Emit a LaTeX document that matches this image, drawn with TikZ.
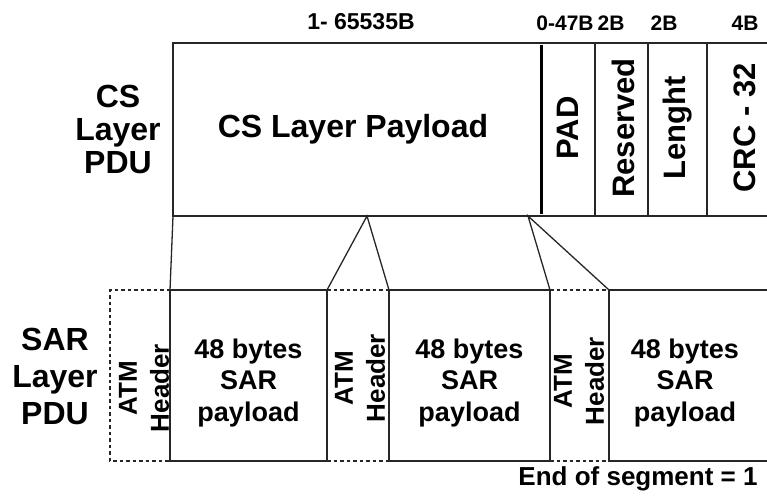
\documentclass[tikz,border=0pt]{standalone}
\usepackage{fontspec}
\setmainfont{Liberation Sans}
\begin{document}
\begin{tikzpicture}[x=1pt,y=-1pt,
  ln/.style={line width=1.3pt, draw=black!85},
  thick sep/.style={line width=3pt, draw=black},
  dsh/.style={line width=1.3pt, draw=black!85, dash pattern=on 3.5pt off 3pt},
  big/.style={font=\bfseries\fontsize{32}{33}\selectfont, align=center, inner sep=0pt},
  vert/.style={font=\bfseries\fontsize{31}{33}\selectfont, rotate=90, inner sep=0pt},
  small/.style={font=\bfseries\fontsize{23}{25}\selectfont, inner sep=0pt},
  pay/.style={font=\bfseries\fontsize{27}{31.5}\selectfont, align=center, inner sep=0pt},
  hdr/.style={font=\bfseries\fontsize{26}{32}\selectfont, align=center, rotate=90, inner sep=0pt}]
\useasboundingbox (0,0) rectangle (767,502);

% ---- CS layer PDU frame
\coordinate (csTR) at (767,43);
\coordinate (csTL) at (173,43);
\coordinate (csBL) at (173,216);
\coordinate (csBR) at (767,216);
\draw[ln] (csTR) -- (csTL) -- (csBL) -- (csBR);
\draw[thick sep] (541,45) -- (541,214);
\draw[ln] (595,43) -- (595,216);
\draw[ln] (648,43) -- (648,216);
\draw[ln] (707,43) -- (707,216);

% labels top
\node[small] (lb1) at (361,22) {1- 65535B};
\node[small, font=\bfseries\fontsize{21}{24}\selectfont] (lb2) at (565,23) {0-47B};
\node[small, font=\bfseries\fontsize{21}{24}\selectfont] (lb3) at (611,23) {2B};
\node[small, font=\bfseries\fontsize{21}{24}\selectfont] (lb4) at (664,23) {2B};
\node[small, font=\bfseries\fontsize{21}{24}\selectfont] (lb5) at (745,23) {4B};

\node[big] (cspdu) at (118,129) {CS\\Layer\\PDU};
\node[big] (cspay) at (353,129) {CS Layer Payload};
\node[vert] (pad) at (568,128) {PAD};
\node[vert] (res) at (623,128) {Reserved};
\node[vert] (len) at (678,128) {Lenght};
\node[vert] (crc) at (745,128) {CRC - 32};

% ---- SAR layer PDU
\coordinate (h1TL) at (110,290);
\coordinate (h1BL) at (110,461);
\coordinate (p1TL) at (170,290);
\coordinate (p1BL) at (170,461);
\coordinate (p1TR) at (327,290);
\coordinate (p1BR) at (327,461);
\coordinate (p2TL) at (389,290);
\coordinate (p2BL) at (389,461);
\coordinate (p2TR) at (550,290);
\coordinate (p2BR) at (550,461);
\coordinate (p3TL) at (609,290);
\coordinate (p3BL) at (609,461);
\coordinate (p3TR) at (767,290);
\coordinate (p3BR) at (767,461);

\draw[dsh] (p1TL) -- (h1TL) -- (h1BL) -- (p1BL);
\draw[ln] (p1TL) rectangle (p1BR);
\draw[dsh] (p1TR) -- (p2TL);
\draw[dsh] (p1BR) -- (p2BL);
\draw[ln] (p2TL) rectangle (p2BR);
\draw[dsh] (p2TR) -- (p3TL);
\draw[dsh] (p2BR) -- (p3BL);
\draw[ln] (p3TR) -- (p3TL) -- (p3BL) -- (p3BR);

% connectors
\coordinate (apex1) at (367,216);
\coordinate (apex2) at (528,216);
\draw[ln] (csBL) -- (p1TL);
\draw[ln] (p1TR) -- (apex1) -- (p2TL);
\draw[ln] (p2TR) -- (apex2) -- (p3TL);

\node[big, font=\bfseries\fontsize{32}{37}\selectfont] (sarpdu) at (55,376) {SAR\\Layer\\PDU};
\node[hdr] (hd1) at (144,388) {ATM\\Header};
\node[hdr] (hd2) at (360,378) {ATM\\Header};
\node[hdr] (hd3) at (579,381) {ATM\\Header};
\node[pay] (pl1) at (248.5,383) {48 bytes\\SAR\\payload};
\node[pay] (pl2) at (469.5,383) {48 bytes\\SAR\\payload};
\node[pay] (pl3) at (685,383) {48 bytes\\SAR\\payload};

\node[font=\bfseries\fontsize{26}{30}\selectfont, inner sep=0pt] (eos) at (638,479) {End of segment = 1};
\end{tikzpicture}
\end{document}
